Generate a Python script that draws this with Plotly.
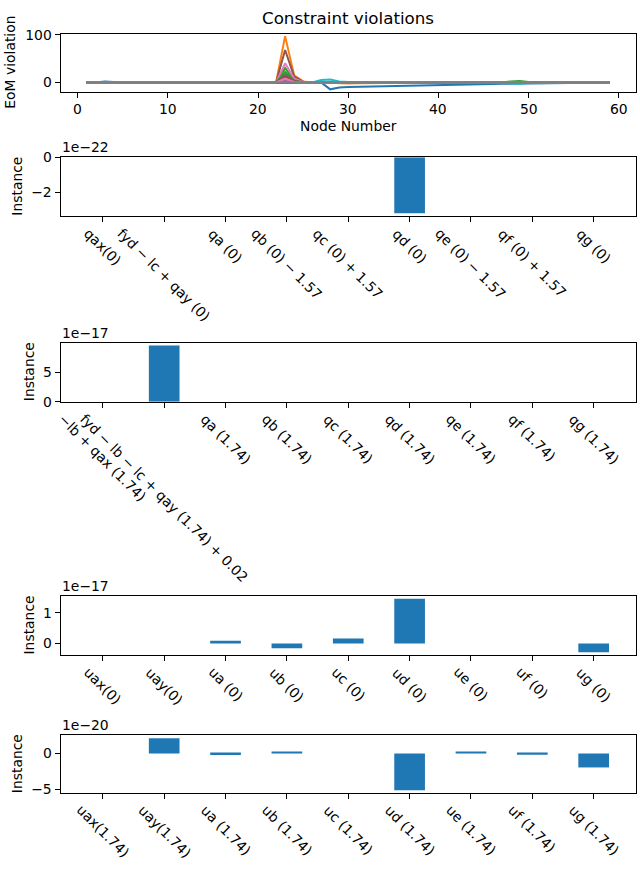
import plotly.graph_objects as go

# ---------------- data ----------------
nodes = list(range(1, 60))
node_ticks = [0, 10, 20, 30, 40, 50, 60]

# EoM violation series (18 rows), values per node 1..59
eom_0 = [0, 0, 2, 0.5, 0, 0, 0, 0, 0, 0, 0, 0, 0, 0, 0, 0, 0, 0, 0, 0, 0, 0, 0, 0, 0, 0, 0, -14.5,
         -10.5, -9.8, -9.3, -8.9, -8.5, -8.1, -7.7, -7.3, -6.9, -6.5, -6.1, -5.7, -5.3, -4.8, -4.4,
         -4.0, -3.6, -3.2, -3.0, -2.8, -2.6, -2.0, -1.4, -0.8, -0.3, 0, 0, 0, 0, 0, 0]
eom_1 = [0, 0, 0, 0, 0, 0, 0, 0, 0, 0, 0, 0, 0, 0, 0, 0, 0, 0, 0, 0, 0, 0, 97, 15, 2, 0, 0, -1,
         -3, -2.5, -2, -1.5, -1.2, -1, -0.8, -0.6, -0.5, -0.4, -0.3, -0.2, -0.1, 0, 0, 0, 0, 0, 0,
         0, 0, 0, 0, 0, 0, 0, 0, 0, 0, 0, 0]
eom_2 = [0, 0, 0, 0, 0, 0, 0, 0, 0, 0, 0, 0, 0, 0, 0, 0, 0, 0, 0, 0, 0, 0, 30, 5, 0.5, 0, 0, 0,
         0, 0, 0, 0, 0, 0, 0, 0, 0, 0, 0, 0, 0, 0, 0, 0, 0, 0, 0, 2, 3, 1, 0, 0, 0, 0, 0, 0, 0, 0, 0]
eom_3 = [0, 0, 0, 0, 0, 0, 0, 0, 0, 0, 0, 0, 0, 0, 0, 0, 0, 0, 0, 0, 0, 0, 12, 3, 0, 0, 0, 0,
         0, 0, 0, 0, 0, 0, 0, 0, 0, 0, 0, 0, 0, 0, 0, 0, 0, 0, 0, 0, 0, 0, 0, 0, 0, 0, 0, 0, 0, 0, 0]
eom_4 = [0, 0, 0, 0, 0, 0, 0, 0, 0, 0, 0, 0, 0, 0, 0, 0, 0, 0, 0, 0, 0, 0, 6, 1, 0, 0, 0, 0,
         0, 0, 0, 0, 0, 0, 0, 0, 0, 0, 0, 0, 0, 0, 0, 0, 0, 0, 0, 0, 0, 0, 0, 0, 0, 0, 0, 0, 0, 0, 0]
eom_5 = [0, 0, 0, 0, 0, 0, 0, 0, 0, 0, 0, 0, 0, 0, 0, 0, 0, 0, 0, 0, 0, 0, 68, 12, 1.5, 0, 0, 0,
         0, 0, 0, 0, 0, 0, 0, 0, 0, 0, 0, 0, 0, 0, 0, 0, 0, 0, 0, 0, 0, 0, 0, 0, 0, 0, 0, 0, 0, 0, 0]
eom_6 = [0, 0, 0, 0, 0, 0, 0, 0, 0, 0, 0, 0, 0, 0, 0, 0, 0, 0, 0, 0, 0, 0, 40, 8, 1, 0, 0, 0,
         0, 0, 0, 0, 0, 0, 0, 0, 0, 0, 0, 0, 0, 0, 0, 0, 0, 0, 0, 0, 0, 0, 0, 0, 0, 0, 0, 0, 0, 0, 0]
eom_7 = [0, 0, 0, 0, 0, 0, 0, 0, 0, 0, 0, 0, 0, 0, 0, 0, 0, 0, 0, 0, 0, 0, 18, 4, 0.5, 0, 0, 0,
         0, 0, 0, 0, 0, 0, 0, 0, 0, 0, 0, 0, 0, 0, 0, 0, 0, 0, 0, 0, 0, 0, 0, 0, 0, 0, 0, 0, 0, 0, 0]
eom_8 = [0, 0, 0, 0, 0, 0, 0, 0, 0, 0, 0, 0, 0, 0, 0, 0, 0, 0, 0, 0, 0, 0, 3, 0.5, 0, 0, 0, 0,
         0, 0, 0, 0, 0, 0, 0, 0, 0, 0, 0, 0, 0, 0, 0, 0, 0, 0, 0, 0, 0, 0, 0, 0, 0, 0, 0, 0, 0, 0, 0]
eom_9 = [0, 0, 1.5, 0.5, 0, 0, 0, 0, 0, 0, 0, 0, 0, 0, 0, 0, 0, 0, 0, 0, 0, 0, 0, 0, 0, 0, 5, 6,
         2, 0.5, 0, 0, 0, 0, 0, 0, 0, 0, 0, 0, 0, 0, 0, 0, 0, 0, 0, -2, -3, -1, 0, 0, 0, 0, 0, 0, 0, 0, 0]
eom_10 = [0] * 59
eom_11 = [0, 0, 0, 0, 0, 0, 0, 0, 0, 0, 0, 0, 0, 0, 0, 0, 0, 0, 0, 0, 0, 0, 5, 1, 0, 0, 0, 0,
          -1, -1, -0.5, 0, 0, 0, 0, 0, 0, 0, 0, 0, 0, 0, 0, 0, 0, 0, 0, 0, 0, 0, 0, 0, 0, 0, 0, 0, 0, 0, 0]
eom_12 = [0, 0, 0, 0, 0, 0, 0, 0, 0, 0, 0, 0, 0, 0, 0, 0, 0, 0, 0, 0, 0, 0, 22, 4, 0, 0, 0, 0,
          0, 0, 0, 0, 0, 0, 0, 0, 0, 0, 0, 0, 0, 0, 0, 0, 0, 0, 0, 0, 0, 0, 0, 0, 0, 0, 0, 0, 0, 0, 0]
eom_13 = [0] * 59
eom_14 = [0, 0, 0, 0, 0, 0, 0, 0, 0, 0, 0, 0, 0, 0, 0, 0, 0, 0, 0, 0, 0, 0, 3, 0, 0, 0, 0, 0,
          0, 0, 0, 0, 0, 0, 0, 0, 0, 0, 0, 0, 0, 0, 0, 0, 0, 0, 0, 0, 0, 0, 0, 0, 0, 0, 0, 0, 0, 0, 0]
eom_15 = [0, 0, 0, 0, 0, 0, 0, 0, 0, 0, 0, 0, 0, 0, 0, 0, 0, 0, 0, 0, 0, 0, 15, 3, 0, 0, 0, 0,
          0, 0, 0, 0, 0, 0, 0, 0, 0, 0, 0, 0, 0, 0, 0, 0, 0, 0, 0, 0, 0, 0, 0, 0, 0, 0, 0, 0, 0, 0, 0]
eom_16 = [0, 0, 0, 0, 0, 0, 0, 0, 0, 0, 0, 0, 0, 0, 0, 0, 0, 0, 0, 0, 0, 0, 8, 1, 0, 0, 0, 0,
          0, 0, 0, 0, 0, 0, 0, 0, 0, 0, 0, 0, 0, 0, 0, 0, 0, 0, 0, 0, 0, 0, 0, 0, 0, 0, 0, 0, 0, 0, 0]
eom_17 = [0] * 59
eom_series = [eom_0, eom_1, eom_2, eom_3, eom_4, eom_5, eom_6, eom_7, eom_8,
              eom_9, eom_10, eom_11, eom_12, eom_13, eom_14, eom_15, eom_16, eom_17]

q0_labels = ["qax(0)", "fyd − lc + qay (0)", "qa (0)", "qb (0) − 1.57", "qc (0) + 1.57",
             "qd (0)", "qe (0) − 1.57", "qf (0) + 1.57", "qg (0)"]
q0_values = [0, 0, 0, 0, 0, -3.18e-22, 0, 0, 0]

q1_labels = ["−lb + qax (1.74)", "fyd − lb − lc + qay (1.74) + 0.02", "qa (1.74)", "qb (1.74)",
             "qc (1.74)", "qd (1.74)", "qe (1.74)", "qf (1.74)", "qg (1.74)"]
q1_values = [0, 9.5e-17, 0, 0, 0, 0, 0, 0, 0]

u0_labels = ["uax(0)", "uay(0)", "ua (0)", "ub (0)", "uc (0)", "ud (0)", "ue (0)", "uf (0)", "ug (0)"]
u0_values = [0, 0, 0.09e-17, -0.155e-17, 0.16e-17, 1.45e-17, 0, 0, -0.28e-17]

u1_labels = ["uax(1.74)", "uay(1.74)", "ua (1.74)", "ub (1.74)", "uc (1.74)", "ud (1.74)",
             "ue (1.74)", "uf (1.74)", "ug (1.74)"]
u1_values = [0, 2.12e-20, -0.22e-20, 0.15e-20, 0, -5.13e-20, 0.27e-20, -0.2e-20, -1.95e-20]

# ---------------- layout helpers ----------------
W, H = 640, 875
FONT = "DejaVu Sans"
FS = 13.9
AX_L, AX_R = 60.5, 636
BOXES = [(26, 85.5), (152, 212), (341, 401), (599, 659), (741, 799.5)]
TAB10 = ["#1f77b4", "#ff7f0e", "#2ca02c", "#d62728", "#9467bd",
         "#8c564b", "#e377c2", "#7f7f7f", "#bcbd22", "#17becf"]


def px(x):
    return x / W


def py(y):
    return 1 - y / H


fig = go.Figure()

for i, s in enumerate(eom_series):
    fig.add_trace(go.Scatter(x=nodes, y=s, mode="lines", xaxis="x", yaxis="y",
                             line=dict(color=TAB10[i % 10], width=2), showlegend=False))

bar_sets = [(q0_labels, q0_values, 1e-22, "1e−22", [-3.34, 0], [-2, 0]),
            (q1_labels, q1_values, 1e-17, "1e−17", [0, 9.975], [0, 5]),
            (u0_labels, u0_values, 1e-17, "1e−17", [-0.37, 1.54], [0, 1]),
            (u1_labels, u1_values, 1e-20, "1e−20", [-5.49, 2.5], [-5, 0])]

annotations = []
axis_common = dict(showline=True, linecolor="black", linewidth=1, mirror=True,
                   ticks="outside", ticklen=5, tickwidth=1, tickcolor="black",
                   showgrid=False, zeroline=False,
                   tickfont=dict(family=FONT, size=FS, color="black"))

layout = dict(width=W, height=H, margin=dict(l=0, r=0, t=0, b=0),
              paper_bgcolor="white", plot_bgcolor="white", showlegend=False,
              font=dict(family=FONT, size=FS, color="black"))

top, bot = BOXES[0]
layout["xaxis"] = dict(domain=[px(AX_L), px(AX_R)], anchor="y", range=[-1.9, 61.9],
                       tickvals=node_ticks, showticklabels=False, **axis_common)
layout["yaxis"] = dict(domain=[py(bot), py(top)], anchor="x", range=[-20, 102.5],
                       tickvals=[0, 100], **axis_common)
for t in node_ticks:
    annotations.append(dict(text=str(t), x=t, y=py(bot + 8), xref="x", yref="paper",
                            showarrow=False, xanchor="center", yanchor="top", borderpad=0))
annotations.append(dict(text="Constraint violations", x=px((AX_L + AX_R) / 2), y=py(10),
                        xref="paper", yref="paper", showarrow=False,
                        font=dict(size=16.7), xanchor="center", yanchor="middle"))
annotations.append(dict(text="Node Number", x=px((AX_L + AX_R) / 2), y=py(120),
                        xref="paper", yref="paper", showarrow=False,
                        xanchor="center", yanchor="middle"))
annotations.append(dict(text="EoM violation", x=px(10), y=py((top + bot) / 2), textangle=-90,
                        xref="paper", yref="paper", showarrow=False,
                        xanchor="center", yanchor="middle"))

ylabel_x = [17, 29, 29, 17]
for k, (labels, values, scale, offtxt, yr, tv) in enumerate(bar_sets):
    n = k + 2
    top, bot = BOXES[k + 1]
    xa, ya = f"x{n}", f"y{n}"
    pos = list(range(len(labels)))
    fig.add_trace(go.Bar(x=pos, y=[v / scale for v in values], width=0.5, xaxis=xa, yaxis=ya,
                         marker=dict(color="#1f77b4", line=dict(width=0)), showlegend=False))
    layout[f"xaxis{n}"] = dict(domain=[px(AX_L), px(AX_R)], anchor=ya, range=[-0.69, 8.69],
                               tickvals=pos, showticklabels=False, **axis_common)
    layout[f"yaxis{n}"] = dict(domain=[py(bot), py(top)], anchor=xa, range=yr,
                               tickvals=tv, **axis_common)
    for p, lab in zip(pos, labels):
        annotations.append(dict(text=lab, x=p, y=py(bot + 8), xref=xa, yref="paper",
                                textangle=45, showarrow=False, xanchor="center", yanchor="top",
                                borderpad=0))
    annotations.append(dict(text=offtxt, x=px(AX_L), y=py(top - 1), xref="paper", yref="paper",
                            showarrow=False, xanchor="left", yanchor="bottom", borderpad=0))
    annotations.append(dict(text="Instance", x=px(ylabel_x[k]), y=py((top + bot) / 2),
                            textangle=-90, xref="paper", yref="paper", showarrow=False,
                            xanchor="center", yanchor="middle"))

layout["annotations"] = annotations
fig.update_layout(**layout)
fig.write_html("out.html")
